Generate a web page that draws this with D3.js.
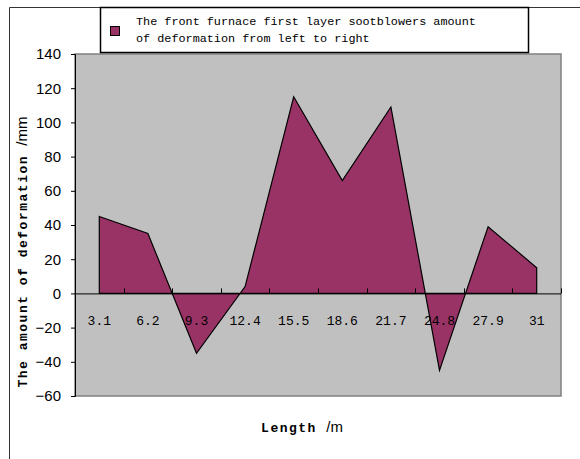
<!DOCTYPE html>
<html><head><meta charset="utf-8">
<script src="https://cdn.jsdelivr.net/npm/d3@7"></script>
<style>html,body{margin:0;padding:0;background:#fff;}svg{display:block;}</style>
</head><body>
<svg id="chart" width="580" height="459"></svg>
<script>
const categories = ["3.1","6.2","9.3","12.4","15.5","18.6","21.7","24.8","27.9","31"];
const deformation = [45, 35, -35, 4, 115, 66, 109, -45, 39, 15];
const yTicks = [-60,-40,-20,0,20,40,60,80,100,120,140];
const legendLines = ["The front furnace first layer sootblowers amount","of deformation from left to right"];
const yTitle = "The amount of deformation ";
const yUnit = "/mm";
const xTitle = "Length ";
const xUnit = "/m";

const svg = d3.select("#chart");
const L = 75, R = 561, T = 54, B = 396;

// chart outer border
svg.append("path").attr("d","M9.5,459 V7.5 H580").attr("fill","none").attr("stroke","#333").attr("stroke-width",1);

const x = d3.scaleBand().domain(categories).range([L, R]).padding(0);
const y = d3.scaleLinear().domain([-60, 140]).range([B, T]);

// plot area
svg.append("rect").attr("x",L).attr("y",T).attr("width",R-L).attr("height",B-T)
  .attr("fill","#C0C0C0").attr("stroke","#808080").attr("stroke-width",1.5);

// area
const area = d3.area()
  .x((d,i)=>x(categories[i]) + x.bandwidth()/2)
  .y0(y(0)).y1(d=>y(d));
svg.append("path").datum(deformation).attr("d",area)
  .attr("fill","#993366").attr("stroke","#000").attr("stroke-width",1.2).attr("stroke-linejoin","miter");

// y axis
const yAxis = d3.axisLeft(y).tickValues(yTicks).tickSize(4).tickPadding(10).tickFormat(d3.format("d"));
const ga = svg.append("g").attr("transform",`translate(${L},0)`).call(yAxis);
ga.select(".domain").attr("stroke","#000");
ga.selectAll(".tick line").attr("stroke","#000");
ga.selectAll(".tick text").attr("font-family","Liberation Sans, Arial, sans-serif").attr("font-size",15).attr("fill","#000");

// x axis at zero
const xb = categories.map(c=>x(c)+x.bandwidth());
const gx = svg.append("g");
gx.append("line").attr("x1",L).attr("x2",R).attr("y1",y(0)+0.5).attr("y2",y(0)+0.5).attr("stroke","#000");
gx.selectAll("line.t").data(xb).enter().append("line")
  .attr("x1",d=>Math.round(d)+0.5).attr("x2",d=>Math.round(d)+0.5)
  .attr("y1",y(0)-5).attr("y2",y(0)).attr("stroke","#000");
gx.selectAll("text").data(categories).enter().append("text")
  .attr("x",d=>x(d)+x.bandwidth()/2).attr("y",y(0)+32)
  .attr("text-anchor","middle").attr("font-family","Liberation Mono, monospace")
  .attr("font-size",13).attr("fill","#000").text(d=>d);

// legend
svg.append("rect").attr("x",100.5).attr("y",7.5).attr("width",428).attr("height",45)
  .attr("fill","#fff").attr("stroke","#000").attr("stroke-width",1.5);
svg.append("rect").attr("x",110.5).attr("y",26.5).attr("width",9).attr("height",9)
  .attr("fill","#993366").attr("stroke","#000").attr("stroke-width",1);
svg.append("g").selectAll("text").data(legendLines).enter().append("text")
  .attr("x",136).attr("y",(d,i)=>25+i*17)
  .attr("font-family","Liberation Mono, monospace").attr("font-size",11.8).attr("fill","#000")
  .text(d=>d);

// y title
const yt = svg.append("text").attr("transform","translate(27,252) rotate(-90)")
  .attr("text-anchor","middle").attr("fill","#000");
yt.append("tspan").attr("font-family","Liberation Mono, monospace").attr("font-weight","bold")
  .attr("font-size",13).attr("letter-spacing",1.5).text(yTitle);
yt.append("tspan").attr("font-family","Liberation Sans, Arial, sans-serif").attr("font-size",15).text(yUnit);

// x title
const xt = svg.append("text").attr("x",302).attr("y",432).attr("text-anchor","middle").attr("fill","#000");
xt.append("tspan").attr("font-family","Liberation Mono, monospace").attr("font-weight","bold")
  .attr("font-size",13).attr("letter-spacing",1.5).text(xTitle);
xt.append("tspan").attr("font-family","Liberation Sans, Arial, sans-serif").attr("font-size",15).text(xUnit);
</script>
</body></html>
